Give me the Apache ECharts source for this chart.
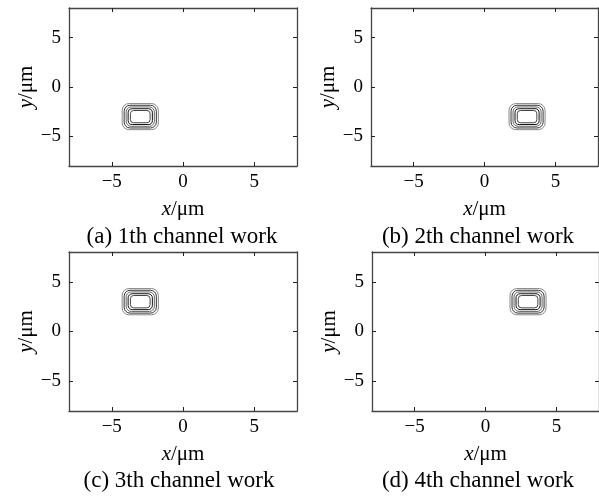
<!DOCTYPE html>
<html><head><meta charset="utf-8">
<script src="https://cdn.jsdelivr.net/npm/echarts@6/dist/echarts.min.js"></script>
<style>html,body{margin:0;padding:0;background:#fff}#c{width:599px;height:496px}</style>
</head><body><div id="c"></div>
<script>
// ---- data ----
const panelLabels = ['(a) 1th channel work', '(b) 2th channel work', '(c) 3th channel work', '(d) 4th channel work'];
const centerX = [-3, 3, -3, 3];
const centerY = [-3, -3, 3, 3];
const ringHalfX = [1.27, 1.13, 0.99, 0.85, 0.69];
const ringHalfY = [1.32, 1.15, 0.98, 0.80, 0.62];
const tickValues = [-5, 0, 5];
const axisMin = -8, axisMax = 8;

// ---- layout / style ----
const ringColors = ['#888', '#333', '#666', '#111', '#444'];
const FONT = '"Liberation Serif","Times New Roman",serif';
const grids = [
  {left: 69, top: 8, width: 228, height: 158},
  {left: 371, top: 8, width: 227, height: 158},
  {left: 69, top: 252, width: 228, height: 159},
  {left: 372, top: 252, width: 228, height: 159}
];
const subtitleX = [182, 478, 179, 478];
const subtitleY = [237, 237, 481, 481];
const lineCol = '#444';

const fmt = v => String(v).replace('-', '\u2212');
const xAxes = [], yAxes = [], series = [], graphics = [];
grids.forEach((g, i) => {
  ['bottom', 'top'].forEach((pos, k) => {
    xAxes.push({
      type: 'value', gridIndex: i, position: pos, min: axisMin, max: axisMax,
      axisLine: {show: true, onZero: false, lineStyle: {color: lineCol, width: 1.3}},
      axisTick: {show: true, inside: true, length: 4, customValues: tickValues, lineStyle: {color: '#222', width: 1}},
      axisLabel: {show: k === 0, customValues: tickValues, formatter: fmt, margin: 7,
        fontFamily: FONT, fontSize: 19, color: '#000'},
      splitLine: {show: false},
      name: k === 0 ? '{i|x}/\u03bcm' : '', nameLocation: 'middle', nameGap: 33,
      nameTextStyle: {fontFamily: FONT, fontSize: 21, color: '#000',
        rich: {i: {fontFamily: FONT, fontSize: 21, fontStyle: 'italic', color: '#000'}}}
    });
  });
  ['left', 'right'].forEach((pos, k) => {
    yAxes.push({
      type: 'value', gridIndex: i, position: pos, min: axisMin, max: axisMax,
      axisLine: {show: true, onZero: false, lineStyle: {color: lineCol, width: 1.3}},
      axisTick: {show: true, inside: true, length: 4, customValues: tickValues, lineStyle: {color: '#222', width: 1}},
      axisLabel: {show: k === 0, customValues: tickValues, formatter: fmt, margin: 8,
        fontFamily: FONT, fontSize: 19, color: '#000'},
      splitLine: {show: false},
      name: k === 0 ? '{i|y}/\u03bcm' : '', nameLocation: 'middle', nameGap: 32,
      nameTextStyle: {fontFamily: FONT, fontSize: 21, color: '#000',
        rich: {i: {fontFamily: FONT, fontSize: 21, fontStyle: 'italic', color: '#000'}}}
    });
  });
  const data = ringHalfX.map((hx, r) => [centerX[i], centerY[i], hx, ringHalfY[r]]);
  series.push({
    type: 'custom', xAxisIndex: i * 2, yAxisIndex: i * 2, clip: false,
    encode: {x: 0, y: 1}, silent: true, animation: false,
    renderItem: (params, api) => {
      const cx = api.value(0), cy = api.value(1), hx = api.value(2), hy = api.value(3);
      const p1 = api.coord([cx - hx, cy + hy]);
      const p2 = api.coord([cx + hx, cy - hy]);
      const w = p2[0] - p1[0], h = p2[1] - p1[1];
      return {type: 'rect', shape: {x: p1[0], y: p1[1], width: w, height: h, r: 0.26 * Math.min(w, h)},
        style: {fill: 'none', stroke: ringColors[params.dataIndex], lineWidth: 1}};
    },
    data: data
  });
  graphics.push({
    type: 'text', x: subtitleX[i], y: subtitleY[i],
    style: {text: panelLabels[i], font: '23px ' + FONT, fill: '#000', textAlign: 'center', textVerticalAlign: 'middle'}
  });
});

const chart = echarts.init(document.getElementById('c'));
chart.setOption({
  animation: false,
  backgroundColor: '#fff',
  grid: grids.map(g => Object.assign({containLabel: false}, g)),
  xAxis: xAxes, yAxis: yAxes, series: series, graphic: graphics
});
</script></body></html>
